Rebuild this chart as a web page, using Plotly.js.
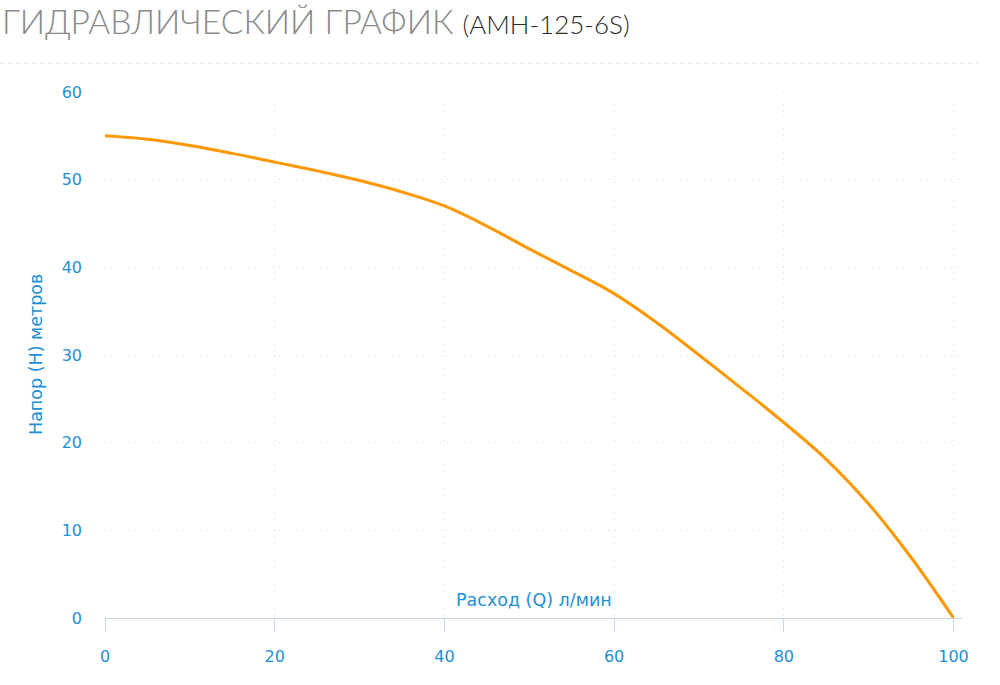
<!DOCTYPE html>
<html>
<head>
<meta charset="utf-8">
<script src="https://cdn.plot.ly/plotly-3.0.1.min.js"></script>
<style>html,body{margin:0;padding:0;background:#fff;}#chart{width:1000px;height:685px;}</style>
</head>
<body>
<div id="chart"></div>
<script>
const flowQ = [0, 5, 10, 15, 20, 25, 30, 35, 40, 45, 50, 55, 60, 65, 70, 75, 80, 85, 90, 95, 100];
const headH = [55, 54.6, 53.9, 53.0, 52.0, 51.0, 49.9, 48.6, 47.0, 44.7, 42.1, 39.6, 37.0, 33.7, 30.0, 26.2, 22.3, 18.1, 13.0, 6.9, 0];
const xTicks = [0, 20, 40, 60, 80, 100];
const yTicks = [0, 10, 20, 30, 40, 50, 60];
const titleMain = 'ГИДРАВЛИЧЕСКИЙ ГРАФИК';
const titleModel = '(АМН-125-6S)';
const xTitle = 'Расход (Q) л/мин';
const yTitle = 'Напор (H) метров';

const blue = '#1e8fd2';
const tickFont = {family: '"DejaVu Sans", Verdana, sans-serif', size: 16, color: blue};
const axTitleFont = {family: '"DejaVu Sans", Verdana, sans-serif', size: 17.5, color: blue};
const trace = {
  x: flowQ, y: headH, type: 'scatter', mode: 'lines',
  line: {color: '#ff9800', width: 3, shape: 'spline', smoothing: 1.1},
  hoverinfo: 'x+y'
};
const layout = {
  width: 1000, height: 685,
  margin: {l: 105, r: 38, t: 92, b: 67},
  paper_bgcolor: '#fff', plot_bgcolor: '#fff',
  showlegend: false,
  title: {
    text: titleMain + ' <span style="font-size:26px;color:#2b2b2b">' + titleModel + '</span>',
    font: {family: 'Lato, "Open Sans", sans-serif', size: 33.5, color: '#8a8a8a', weight: 300},
    x: 0.002, xref: 'container', xanchor: 'left',
    y: 0.968, yref: 'container', yanchor: 'middle'
  },
  font: tickFont,
  xaxis: {
    range: [0, 101], tickvals: xTicks, ticktext: xTicks.map(String),
    showline: true, linecolor: '#ccd6eb', linewidth: 1,
    ticks: 'outside', ticklen: 13, tickcolor: '#ccd6eb', tickwidth: 1,
    ticklabelstandoff: 11,
    showgrid: true, gridcolor: '#dedede', griddash: '1px,5px', gridwidth: 1,
    zeroline: false, fixedrange: true,
    tickfont: tickFont
  },
  yaxis: {
    range: [0, 60], tickvals: yTicks, ticktext: yTicks.map(String),
    showline: false, ticks: '', ticklabelstandoff: 22,
    showgrid: true, gridcolor: '#dedede', griddash: '1px,5px', gridwidth: 1,
    zeroline: false, fixedrange: true,
    tickfont: tickFont
  },
  annotations: [
    {text: xTitle, xref: 'paper', yref: 'paper', x: 0.5, y: 0, xanchor: 'center', yanchor: 'bottom',
     yshift: 6, showarrow: false, font: axTitleFont},
    {text: yTitle, xref: 'paper', yref: 'paper', x: -0.0805, y: 0.5, xanchor: 'center', yanchor: 'middle',
     textangle: -90, showarrow: false, font: axTitleFont}
  ],
  shapes: [
    {type: 'line', xref: 'paper', yref: 'paper', x0: -0.1225, x1: 1.0187, y0: 1.055, y1: 1.055,
     line: {color: '#e0e0e0', width: 1, dash: '4px,4px'}}
  ]
};
Plotly.newPlot('chart', [trace], layout, {displayModeBar: false, responsive: false});
</script>
</body>
</html>
